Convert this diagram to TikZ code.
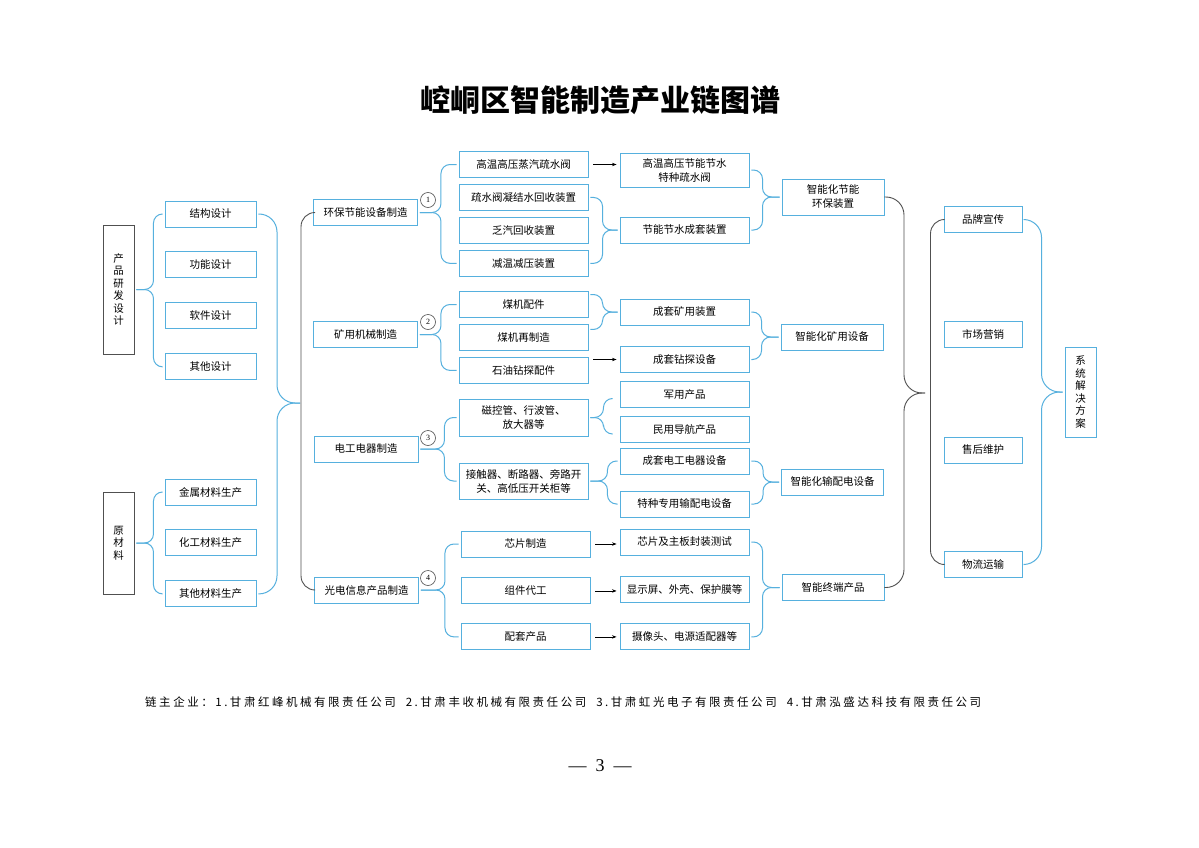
\documentclass[tikz,border=0pt]{standalone}
\usepackage{fontspec}
\setmainfont{Noto Sans CJK SC}
\newfontfamily\serifnum{Liberation Serif}
\usepackage{xcolor}
\usetikzlibrary{arrows.meta, positioning}

\definecolor{lineblue}{RGB}{86,176,222}
\definecolor{linegray}{RGB}{80,80,80}

\begin{document}
\begin{tikzpicture}[
			x=1pt, y=-1pt,
			node distance=24pt and 20pt,
			box/.style={draw=lineblue, line width=0.95pt, rectangle, align=center, minimum height=26pt, inner sep=1pt, font=\fontsize{10.5}{14}\selectfont},
			dbox/.style={box, minimum width=91pt},
			mbox/.style={box, minimum width=104pt},
			wbox/.style={box, minimum width=129pt},
			sbox/.style={box, minimum width=102pt},
			rbox/.style={box, minimum width=78pt},
			vbox/.style={draw=linegray, line width=0.95pt, rectangle, align=center, minimum width=31pt, inner sep=1pt, font=\fontsize{10.5}{12.5}\selectfont},
			circ/.style={circle, draw=linegray, line width=0.6pt, minimum size=15pt, inner sep=0pt, font=\serifnum\fontsize{8}{8}\selectfont},
			arrow/.style={-{Stealth[length=4.5pt,width=3.4pt]}, line width=0.6pt, shorten <=5pt, shorten >=3pt},
			brace/.style={draw=lineblue, line width=1pt, rounded corners=9pt, shorten <=2pt, shorten >=2pt},
			bigbrace/.style={brace, rounded corners=18pt},
			grayline/.style={draw=linegray, line width=0.9pt, rounded corners=14pt}
			]
			
			\useasboundingbox[fill=white] (0,0) rectangle (1199,848);
			
			% Title
			\node (title) at (600,100) {\fontsize{30}{33}\selectfont\bfseries 崆峒区智能制造产业链图谱};
			
			% Nodes: left
			\node (yanfa) [vbox, minimum height=129pt] at (118.5,289.5) {产\\品\\研\\发\\设\\计};
			\node (jiegou) [dbox] at (210.5,214) {结构设计};
			\node (gongneng) [dbox, below=of jiegou] {功能设计};
			\node (ruanjian) [dbox, below=of gongneng] {软件设计};
			\node (qitasj) [dbox, below=of ruanjian] {其他设计};
			\node (yuancl) [vbox, minimum height=102pt] at (118.5,543) {原\\材\\料};
			\node (jinshu) [dbox] at (210.5,492) {金属材料生产};
			\node (huagong) [dbox, below=of jinshu] {化工材料生产};
			\node (qitacl) [dbox, below=of huagong] {其他材料生产};
			\coordinate (hubL) at (300,403);
			
			% Nodes: manufacturing
			\node (huanbao) [mbox] at (365.5,212.5) {环保节能设备制造};
			\node (kuangyong) [mbox] at (365.5,334.5) {矿用机械制造};
			\node (diangong) [mbox] at (366,449) {电工电器制造};
			\node (guangdian) [mbox] at (366.5,590) {光电信息产品制造};
			\node (c1) [circ] at (428,200) {1};
			\node (c2) [circ] at (428,322) {2};
			\node (c3) [circ] at (428,438) {3};
			\node (c4) [circ] at (428,578) {4};
			
			% Nodes: parts
			\node (gaowen) [wbox] at (523.5,164.5) {高温高压蒸汽疏水阀};
			\node (ningjie) [wbox, below=6pt of gaowen] {疏水阀凝结水回收装置};
			\node (fanqi) [wbox, below=6pt of ningjie] {乏汽回收装置};
			\node (jianwen) [wbox, below=6pt of fanqi] {减温减压装置};
			\node (meiji) [wbox] at (523.5,304.5) {煤机配件};
			\node (zaizhi) [wbox, below=6pt of meiji] {煤机再制造};
			\node (shiyou) [wbox, below=6pt of zaizhi] {石油钻探配件};
			\node (cikong) [wbox, minimum height=37pt] at (523.5,417.5) {磁控管、行波管、\\放大器等};
			\node (jiechu) [wbox, minimum height=36pt] at (523.5,481) {接触器、断路器、旁路开\\关、高低压开关柜等};
			\node (xinpian) [wbox] at (525.5,544) {芯片制造};
			\node (zujian) [wbox, below=20pt of xinpian] {组件代工};
			\node (peitao) [wbox, below=19pt of zujian] {配套产品};
			
			% Nodes: sets
			\node (jsss) [wbox, minimum height=34pt] at (684.5,170) {高温高压节能节水\\特种疏水阀};
			\node (chengtao) [wbox] at (684.5,230) {节能节水成套装置};
			\node (kuangzb) [wbox] at (684.5,312) {成套矿用装置};
			\node (zuantan) [wbox] at (684.5,359.5) {成套钻探设备};
			\node (junyong) [wbox] at (684.5,394.5) {军用产品};
			\node (minyong) [wbox] at (684.5,429) {民用导航产品};
			\node (dqsb) [wbox] at (684.5,461) {成套电工电器设备};
			\node (tzsb) [wbox] at (684.5,504) {特种专用输配电设备};
			\node (fengzhuang) [wbox] at (684.5,542) {芯片及主板封装测试};
			\node (xianshi) [wbox, below=21pt of fengzhuang] {显示屏、外壳、保护膜等};
			\node (shexiang) [wbox, below=20pt of xianshi] {摄像头、电源适配器等};
			
			% Nodes: intelligent products
			\node (jieneng) [sbox, minimum height=36pt] at (833,197) {智能化节能\\环保装置};
			\node (kuangsb) [sbox] at (832,337) {智能化矿用设备};
			\node (shupei) [sbox] at (832.5,482) {智能化输配电设备};
			\node (zhongduan) [sbox] at (833,587.5) {智能终端产品};
			\coordinate (hubR) at (925,393);
			
			% Nodes: services
			\node (pinpai) [rbox] at (983,219.5) {品牌宣传};
			\node (shichang) [rbox] at (983,334.5) {市场营销};
			\node (shouhou) [rbox] at (983,450) {售后维护};
			\node (wuliu) [rbox] at (983,564.5) {物流运输};
			\node (fangan) [vbox, draw=lineblue, minimum height=90pt] at (1080.5,392) {系\\统\\解\\决\\方\\案};
			
			% Footer
			\node (firms) [anchor=west, inner sep=0pt] at (145,702) {\fontsize{11.5}{13}\selectfont\addfontfeature{LetterSpace=22}链主企业：1.甘肃红峰机械有限责任公司\hspace{10pt}2.甘肃丰收机械有限责任公司\hspace{10pt}3.甘肃虹光电子有限责任公司\hspace{10pt}4.甘肃泓盛达科技有限责任公司};
			\node (page) at (600,766) {\serifnum\fontsize{18}{20}\selectfont —\hspace{9pt}3\hspace{9pt}—};
			
			% Connections: left
			\draw [brace] (yanfa.east) -- ++(19,0) |- (jiegou.west);
			\draw [brace] (yanfa.east) -- ++(19,0) |- (qitasj.west);
			\draw [brace] (yuancl.east) -- ++(19,0) |- (jinshu.west);
			\draw [brace] (yuancl.east) -- ++(19,0) |- (qitacl.west);
			\draw [bigbrace, shorten >=0pt] (jiegou.east) -| ([xshift=-23pt]hubL) -- (hubL);
			\draw [bigbrace, shorten >=0pt] (qitacl.east) -| ([xshift=-23pt]hubL) -- (hubL);
			\draw [grayline] (huanbao.west) -- ++(-12,0) |- (guangdian.west);
			
			% Connections: group 1
			\draw [brace] (huanbao.east) -- ++(23,0) |- (gaowen.west);
			\draw [brace] (huanbao.east) -- ++(23,0) |- (jianwen.west);
			\draw [arrow] (gaowen.east) -- (gaowen.east -| jsss.west);
			\draw [brace] (ningjie.east) -| ([xshift=-17pt]chengtao.west) -- (chengtao.west);
			\draw [brace] (jianwen.east) -| ([xshift=-17pt]chengtao.west) -- (chengtao.west);
			\draw [brace] (jsss.east) -| ([xshift=-19pt]jieneng.west) -- (jieneng.west);
			\draw [brace] (chengtao.east) -| ([xshift=-19pt]jieneng.west) -- (jieneng.west);
			
			% Connections: group 2
			\draw [brace] (kuangyong.east) -- ++(23,0) |- (meiji.west);
			\draw [brace] (kuangyong.east) -- ++(23,0) |- (shiyou.west);
			\draw [brace] ([yshift=10pt]meiji.east) -| ([xshift=-17pt]kuangzb.west) -- (kuangzb.west);
			\draw [brace] ([yshift=8pt]zaizhi.east) -| ([xshift=-17pt]kuangzb.west) -- (kuangzb.west);
			\draw [arrow] (shiyou.east |- zuantan.west) -- (zuantan.west);
			\draw [brace] (kuangzb.east) -| ([xshift=-19pt]kuangsb.west) -- (kuangsb.west);
			\draw [brace] (zuantan.east) -| ([xshift=-19pt]kuangsb.west) -- (kuangsb.west);
			
			% Connections: group 3
			\draw [brace] (diangong.east) -- ++(26,0) |- (cikong.west);
			\draw [brace] (diangong.east) -- ++(26,0) |- (jiechu.west);
			\draw [brace, shorten >=0pt] (cikong.east) -- ++(15,0) |- ([xshift=-7pt,yshift=-4pt]junyong.west);
			\draw [brace, shorten >=0pt] (cikong.east) -- ++(15,0) |- ([xshift=-7pt,yshift=-5pt]minyong.west);
			\draw [brace] (jiechu.east) -- ++(19,0) |- (dqsb.west);
			\draw [brace] (jiechu.east) -- ++(19,0) |- (tzsb.west);
			\draw [brace] (dqsb.east) -| ([xshift=-18pt]shupei.west) -- (shupei.west);
			\draw [brace] (tzsb.east) -| ([xshift=-18pt]shupei.west) -- (shupei.west);
			
			% Connections: group 4
			\draw [brace] (guangdian.east) -- ++(26,0) |- (xinpian.west);
			\draw [brace] (guangdian.east) -- ++(26,0) |- (peitao.west);
			\draw [arrow] (xinpian.east) -- (xinpian.east -| fengzhuang.west);
			\draw [arrow] (zujian.east) -- (zujian.east -| xianshi.west);
			\draw [arrow] (peitao.east) -- (peitao.east -| shexiang.west);
			\draw [brace] (fengzhuang.east) -| ([xshift=-19pt]zhongduan.west) -- (zhongduan.west);
			\draw [brace] (shexiang.east) -| ([xshift=-19pt]zhongduan.west) -- (zhongduan.west);
			
			% Connections: right
			\draw [grayline, rounded corners=18pt] (jieneng.east) -| ([xshift=-21pt]hubR) -- (hubR);
			\draw [grayline, rounded corners=18pt] (zhongduan.east) -| ([xshift=-21pt]hubR) -- (hubR);
			\draw [grayline] (pinpai.west) -- ++(-13,0) |- (wuliu.west);
			\draw [bigbrace] (pinpai.east) -| ([xshift=-23pt]fangan.west) -- (fangan.west);
			\draw [bigbrace] (wuliu.east) -| ([xshift=-23pt]fangan.west) -- (fangan.west);
			
		\end{tikzpicture}
\end{document}
